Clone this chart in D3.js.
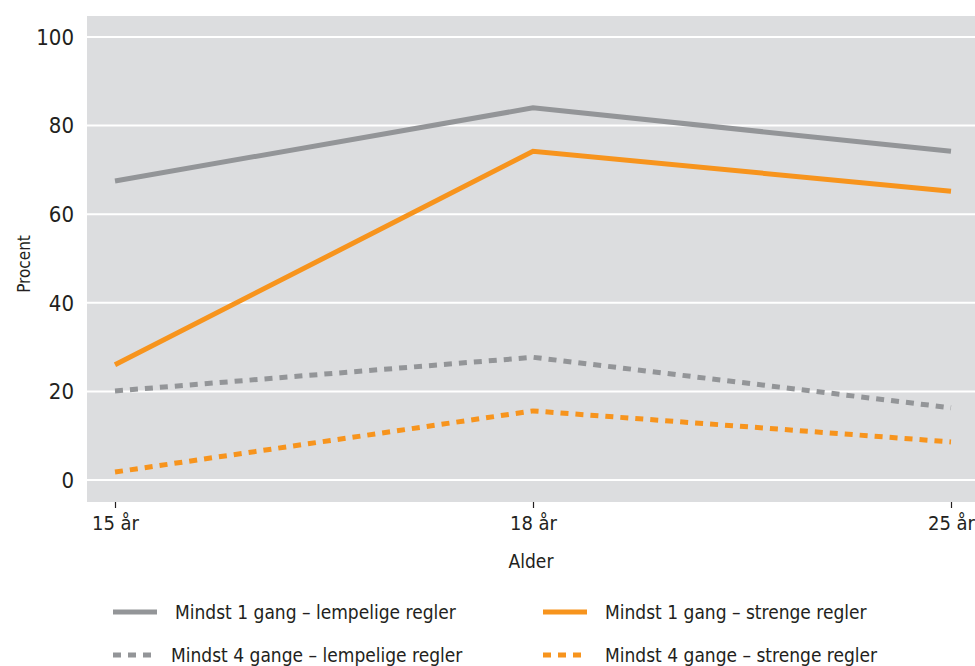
<!DOCTYPE html>
<html>
<head>
<meta charset="utf-8">
<style>
    body { margin: 0; background: #fff; }
    svg text { font-family: "Liberation Sans Narrow", "DejaVu Sans Condensed", sans-serif; fill: #231f20; }
</style>
</head>
<body>
<svg id="chart" width="975" height="666"></svg>
<script src="https://d3js.org/d3.v7.min.js"></script>
<script>
// data
var ages = ["15 år", "18 år", "25 år"];
var m1Lempelige = [67.5, 84, 74.2];
var m1Strenge = [26, 74.2, 65.2];
var m4Lempelige = [20.1, 27.7, 16.3];
var m4Strenge = [1.8, 15.6, 8.6];
var yTicks = [0, 20, 40, 60, 80, 100];

var series = [
    {name: "Mindst 1 gang – lempelige regler", values: m1Lempelige, color: "#939598", dash: null},
    {name: "Mindst 1 gang – strenge regler", values: m1Strenge, color: "#f7941d", dash: null},
    {name: "Mindst 4 gange – lempelige regler", values: m4Lempelige, color: "#939598", dash: "8,7"},
    {name: "Mindst 4 gange – strenge regler", values: m4Strenge, color: "#f7941d", dash: "8,7"}
];

var svg = d3.select("#chart");
var plot = {left: 87, top: 16, right: 975, bottom: 502};

var x = d3.scalePoint().domain(ages).range([115, 951]);
var y = d3.scaleLinear().domain([0, 100]).range([480, 37]);

svg.append("rect")
    .attr("x", plot.left).attr("y", plot.top)
    .attr("width", plot.right - plot.left).attr("height", plot.bottom - plot.top)
    .attr("fill", "#dcdddf");

// gridlines
svg.selectAll("line.grid").data(yTicks).enter().append("line")
    .attr("class", "grid")
    .attr("x1", plot.left).attr("x2", plot.right)
    .attr("y1", function(d) { return y(d); }).attr("y2", function(d) { return y(d); })
    .attr("stroke", "#fff").attr("stroke-width", 2);

// y axis labels
svg.selectAll("text.ytick").data(yTicks).enter().append("text")
    .attr("class", "ytick")
    .attr("x", 74).attr("y", function(d) { return y(d); })
    .attr("dy", "0.35em").attr("text-anchor", "end")
    .style("font-size", "22px")
    .text(function(d) { return d; });

// x axis ticks
var xa = svg.append("g").attr("transform", "translate(0," + plot.bottom + ")")
    .call(d3.axisBottom(x).tickSize(6).tickPadding(8));
xa.select(".domain").remove();
xa.selectAll(".tick line").attr("stroke", "#231f20").attr("stroke-width", 1.2);
xa.selectAll(".tick text").style("font-size", "20px").attr("fill", "#231f20")
    .style("font-family", "\"Liberation Sans Narrow\", \"DejaVu Sans Condensed\", sans-serif");

svg.append("text").attr("x", 531).attr("y", 568).attr("text-anchor", "middle")
    .style("font-size", "19px").text("Alder");
svg.append("text").attr("transform", "translate(30,264) rotate(-90)").attr("text-anchor", "middle")
    .style("font-size", "17px").text("Procent");

var line = d3.line()
    .x(function(d, i) { return x(ages[i]); })
    .y(function(d) { return y(d); });

svg.selectAll("path.series").data(series).enter().append("path")
    .attr("class", "series")
    .attr("d", function(d) { return line(d.values); })
    .attr("fill", "none")
    .attr("stroke", function(d) { return d.color; })
    .attr("stroke-width", 5)
    .attr("stroke-dasharray", function(d) { return d.dash; });

// legend
var legendPos = [[113, 612], [543, 612], [113, 655], [543, 655]];
var lg = svg.selectAll("g.legend").data([series[0], series[1], series[2], series[3]]).enter().append("g")
    .attr("class", "legend")
    .attr("transform", function(d, i) { return "translate(" + legendPos[i][0] + "," + legendPos[i][1] + ")"; });
lg.append("line")
    .attr("x1", 0).attr("x2", 44).attr("y1", 0).attr("y2", 0)
    .attr("stroke", function(d) { return d.color; })
    .attr("stroke-width", 5)
    .attr("stroke-dasharray", function(d) { return d.dash; });
lg.append("text")
    .attr("x", function(d, i) { return i === 2 ? 58 : (i === 0 ? 62 : 62); })
    .attr("dy", "0.35em")
    .style("font-size", "19px")
    .text(function(d) { return d.name; });
</script>
</body>
</html>
